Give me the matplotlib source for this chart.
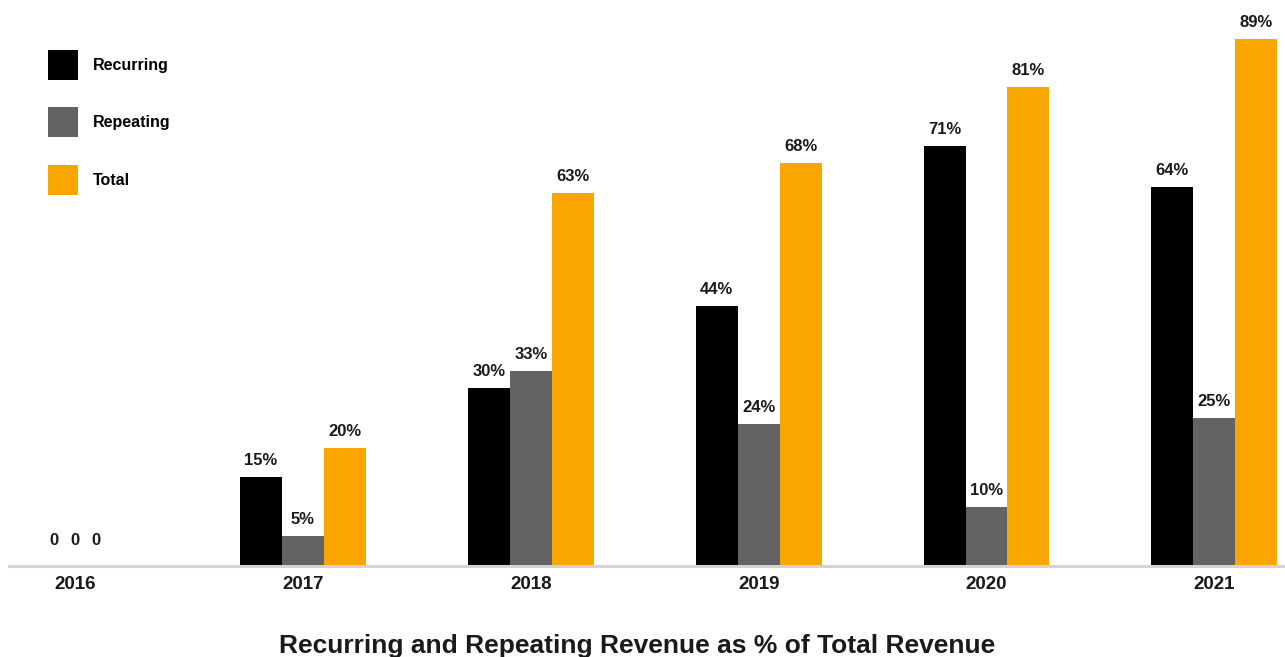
import numpy as np
import matplotlib
matplotlib.use("Agg")
import matplotlib.pyplot as plt
from matplotlib.patches import Patch

plt.rcParams['font.family'] = ['Liberation Sans', 'DejaVu Sans']

years = ['2016', '2017', '2018', '2019', '2020', '2021']
recurring = [0, 15, 30, 44, 71, 64]
repeating = [0, 5, 33, 24, 10, 25]
total = [0, 20, 63, 68, 81, 89]
series_names = ['Recurring', 'Repeating', 'Total']
colors = ['#000000', '#636363', '#f9a600']

fig = plt.figure(figsize=(12.85, 6.57), dpi=100)
ax = fig.add_axes([0.007, 0.1385, 0.993, 0.855])

x = np.arange(len(years))
w = 0.184
series = [recurring, repeating, total]
for i, (vals, c) in enumerate(zip(series, colors)):
    pos = x + (i - 1) * w
    ax.bar(pos, vals, width=w, color=c, edgecolor='none')
    for xi, v in zip(pos, vals):
        if v == 0:
            # zero values are shown as plain "0" packed together
            xc = np.round(xi) + (i - 1) * 0.092
            ax.annotate('0', (xc, 0), xytext=(0, 13), textcoords='offset points',
                        ha='center', va='bottom', fontsize=12, fontweight='bold',
                        color='#1a1a1a')
        else:
            ax.annotate(f'{v}%', (xi, v), xytext=(0, 6.5), textcoords='offset points',
                        ha='center', va='bottom', fontsize=12, fontweight='bold',
                        color='#1a1a1a')

ax.set_xlim(-0.29, 5.31)
ax.set_ylim(0, 94.9)
ax.set_xticks(x)
ax.set_xticklabels(years, fontsize=13.5, fontweight='bold', color='#1a1a1a')
ax.tick_params(axis='x', length=0, pad=7)
ax.set_yticks([])
for s in ['top', 'left', 'right']:
    ax.spines[s].set_visible(False)
ax.spines['bottom'].set_color('#d3d3d3')
ax.spines['bottom'].set_linewidth(2.2)

handles = [Patch(facecolor=c, edgecolor='none') for c in colors]
fig.legend(handles, series_names, loc='upper left',
           bbox_to_anchor=(48 / 1285, 1 - 50 / 657), frameon=False,
           borderpad=0, borderaxespad=0, handlelength=1.88, handleheight=2.51,
           handletextpad=0.94, labelspacing=1.72,
           prop={'size': 11.5, 'weight': 'bold'})

fig.text(0.4957, 0.006, 'Recurring and Repeating Revenue as % of Total Revenue',
         ha='center', va='baseline', fontsize=19, fontweight='bold', color='#1a1a1a')

fig.savefig('out.png', dpi=100)
